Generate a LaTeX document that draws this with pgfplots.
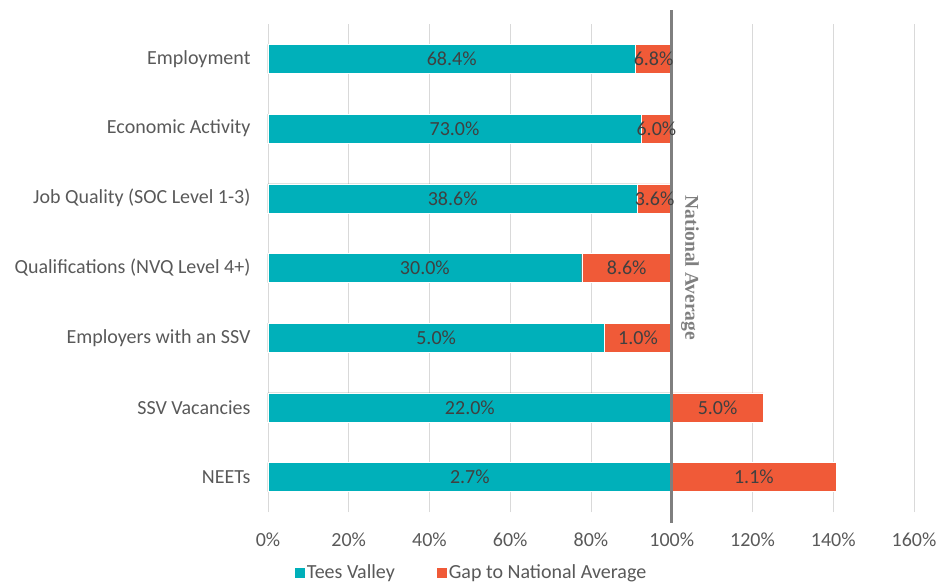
\documentclass[border=0pt]{standalone}
\usepackage{fontspec}
\setmainfont{Carlito}
\newfontfamily\natfont{Liberation Serif}
\usepackage{pgfplots}
\pgfplotsset{compat=1.18}
\definecolor{teal1}{HTML}{00B0BA}
\definecolor{orng}{HTML}{F05A38}
\definecolor{lbl}{HTML}{595959}
\definecolor{dlbl}{HTML}{404040}
\definecolor{grd}{HTML}{D9D9D9}
\definecolor{natgray}{HTML}{7F7F7F}
\pgfplotsset{sqlegend/.style={legend image code/.code={\fill[##1] (0pt,-5pt) rectangle (10pt,5pt);}}}
\begin{document}
\begin{tikzpicture}
\useasboundingbox (-268pt,-75pt) rectangle (674pt,512pt);
\begin{axis}[
  scale only axis, width=646pt, height=488pt,
  xmin=0, xmax=160, ymin=-0.5, ymax=6.5,
  xtick={0,20,...,160},
  xticklabel={\pgfmathprintnumber{\tick}\%},
  ytick={0,1,2,3,4,5,6},
  yticklabels={NEETs, SSV Vacancies, Employers with an SSV, Qualifications (NVQ Level 4+), Job Quality (SOC Level 1-3), Economic Activity, Employment},
  /pgf/number format/assume math mode=true,
  xmajorgrids, grid style={grd, line width=0.8pt},
  axis line style={draw=none}, major tick length=0,
  tick label style={font=\fontsize{20}{23}\selectfont, text=lbl},
  yticklabel style={xshift=-14pt},
  xticklabel style={yshift=-17pt},
  clip=false,
  legend style={at={(0.315,-0.124)}, anchor=center, draw=none, legend columns=2,
    font=\fontsize{20}{23}\selectfont, text=lbl, inner sep=1pt,
    /tikz/every even column/.append style={column sep=40pt}},
]
\addlegendimage{sqlegend, fill=teal1, draw=none}
\addlegendentry{Tees Valley}
\addlegendimage{sqlegend, fill=orng, draw=none}
\addlegendentry{Gap to National Average}
% gap bars (drawn from 0 to end, covered by Tees Valley)
\addplot[xbar, bar shift=0pt, bar width=29pt, fill=orng, draw=white, line width=0.4pt, forget plot]
  coordinates {(100,6) (100,5) (100,4) (100,3) (100,2) (122.7,1) (140.7,0)};
% Tees Valley bars
\addplot[xbar, bar shift=0pt, bar width=29pt, fill=teal1, draw=white, line width=0.4pt, forget plot]
  coordinates {(91.0,6) (92.4,5) (91.5,4) (77.7,3) (83.3,2) (100,1) (100,0)};
% data labels
\addplot[only marks, mark=none, forget plot, point meta=explicit,
  nodes near coords={\pgfmathprintnumber[fixed, fixed zerofill, precision=1]{\pgfplotspointmeta}\%},
  nodes near coords style={anchor=center, font=\fontsize{20}{23}\selectfont, text=dlbl}]
  table[meta=v, row sep=\\] {
  x y v\\
  45.5 6 68.4\\
  46.2 5 73.0\\
  45.75 4 38.6\\
  38.85 3 30.0\\
  41.65 2 5.0\\
  50 1 22.0\\
  50 0 2.7\\
  95.5 6 6.8\\
  96.2 5 6.0\\
  95.75 4 3.6\\
  88.85 3 8.6\\
  91.65 2 1.0\\
  111.35 1 5.0\\
  120.35 0 1.1\\
  };
\draw[natgray, line width=3pt] (axis cs:100,6.7) -- (axis cs:100,-0.66);
\node[rotate=-90, font=\natfont\bfseries\fontsize{19.5}{22}\selectfont, text=natgray] at (axis cs:104.5,3) {National Average};
\end{axis}
\end{tikzpicture}
\end{document}
